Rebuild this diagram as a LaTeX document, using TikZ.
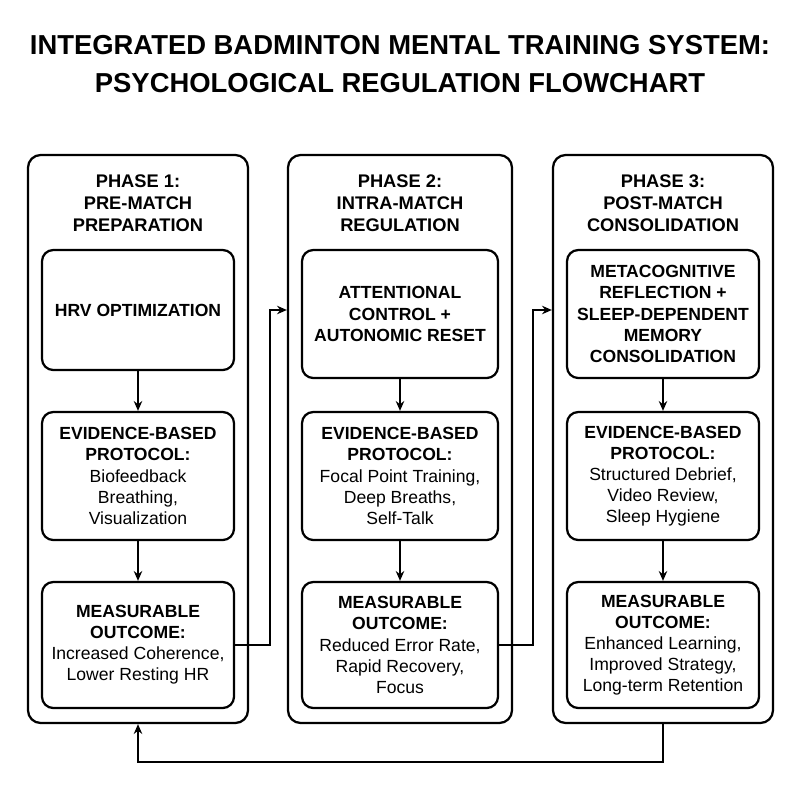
\documentclass[tikz,border=0pt]{standalone}
\usepackage{fontspec}
\setmainfont{Liberation Sans}
\usetikzlibrary{positioning,arrows.meta}
\tikzset{
  column/.style={draw, line width=1.6pt, rounded corners=9pt, minimum width=55mm, minimum height=142mm},
  stepbox/.style={draw, line width=1.6pt, rounded corners=8pt, minimum width=48mm, align=center, font=\fontsize{12.5}{15}\selectfont, inner sep=2pt},
  head/.style={align=center, font=\bfseries\fontsize{13}{15.5}\selectfont},
  flow/.style={line width=1.3pt, -{Stealth[length=7pt,width=6pt]}}
}
\begin{document}
\begin{tikzpicture}[x=0.25mm, y=-0.25mm]
  \useasboundingbox (0,0) rectangle (800,800);

  \node[align=center, font=\bfseries\fontsize{19.5}{27}\selectfont] (title) at (400,64) {INTEGRATED BADMINTON MENTAL TRAINING SYSTEM:\\PSYCHOLOGICAL REGULATION FLOWCHART};

  % columns
  \node[column] (colA) at (138,439) {};
  \node[column, minimum width=56mm] (colB) at (400,439) {};
  \node[column] (colC) at (663,439) {};

  \node[head] (headA) at (138,203) {PHASE 1:\\PRE-MATCH\\PREPARATION};
  \node[head] (headB) at (400,203) {PHASE 2:\\INTRA-MATCH\\REGULATION};
  \node[head] (headC) at (663,203) {PHASE 3:\\POST-MATCH\\CONSOLIDATION};

  % phase 1
  \node[stepbox, minimum height=30mm, font=\bfseries\fontsize{12.5}{15}\selectfont] (fA) at (138,310) {HRV OPTIMIZATION};
  \node[stepbox, minimum height=32mm] (pA) at (138,476) {\textbf{EVIDENCE-BASED}\\\textbf{PROTOCOL:}\\Biofeedback\\Breathing,\\Visualization};
  \node[stepbox, minimum height=31.5mm] (oA) at (138,645) {\textbf{MEASURABLE}\\\textbf{OUTCOME:}\\Increased Coherence,\\Lower Resting HR};

  % phase 2
  \node[stepbox, minimum width=49mm, minimum height=32mm, font=\bfseries\fontsize{12.5}{15}\selectfont] (fB) at (400,314) {ATTENTIONAL\\CONTROL +\\AUTONOMIC RESET};
  \node[stepbox, minimum width=49mm, minimum height=32mm] (pB) at (400,476) {\textbf{EVIDENCE-BASED}\\\textbf{PROTOCOL:}\\Focal Point Training,\\Deep Breaths,\\Self-Talk};
  \node[stepbox, minimum width=49mm, minimum height=31.5mm] (oB) at (400,645) {\textbf{MEASURABLE}\\\textbf{OUTCOME:}\\Reduced Error Rate,\\Rapid Recovery,\\Focus};

  % phase 3
  \node[stepbox, minimum height=32mm, font=\bfseries\fontsize{12.5}{15}\selectfont] (fC) at (663,314) {METACOGNITIVE\\REFLECTION +\\SLEEP-DEPENDENT\\MEMORY\\CONSOLIDATION};
  \node[stepbox, minimum height=32mm] (pC) at (663,476) {\textbf{EVIDENCE-BASED}\\\textbf{PROTOCOL:}\\Structured Debrief,\\Video Review,\\Sleep Hygiene};
  \node[stepbox, minimum height=31.5mm] (oC) at (663,645) {\textbf{MEASURABLE}\\\textbf{OUTCOME:}\\Enhanced Learning,\\Improved Strategy,\\Long-term Retention};

  \draw[flow] (fA) -- (pA);
  \draw[flow] (pA) -- (oA);
  \draw[flow] (fB) -- (pB);
  \draw[flow] (pB) -- (oB);
  \draw[flow] (fC) -- (pC);
  \draw[flow] (pC) -- (oC);

  \draw[flow] (oA.east) -- ++(35,0) |- (colB.west |- fA);
  \draw[flow] (oB.east) -- ++(34,0) |- (colC.west |- fA);
  \coordinate (loop) at (400,762);
  \draw[flow] (colC.south) |- (loop) -| (colA.south);
\end{tikzpicture}
\end{document}
